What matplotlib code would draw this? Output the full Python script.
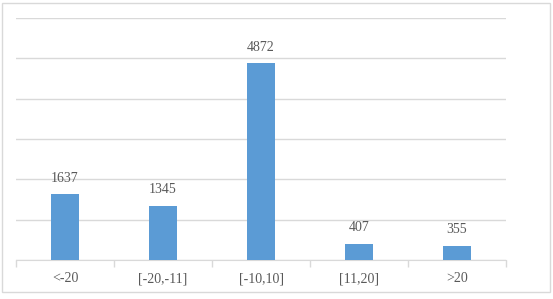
import numpy as np
import matplotlib.pyplot as plt
from matplotlib.patches import Rectangle

categories = ['<-20', '[-20,-11]', '[-10,10]', '[11,20]', '>20']
values = [1637, 1345, 4872, 407, 355]

plt.rcParams['font.family'] = ['Liberation Serif', 'DejaVu Serif']

fig = plt.figure(figsize=(5.53, 2.99), dpi=100)
ax = fig.add_axes([16/553, 1 - 260/299, 490/553, 242/299])

x = np.arange(len(categories))
ax.bar(x, values, width=0.28, color='#5B9BD5', zorder=3)
for xi, v in zip(x, values):
    ax.text(xi, v + 230, str(v), ha='center', va='bottom', fontsize=10, color='#595959')

ax.set_xlim(-0.5, len(categories) - 0.5)
ax.set_ylim(0, 6000)
ax.set_yticks(np.arange(0, 6001, 1000))
ax.yaxis.grid(True, color='#D9D9D9', linewidth=1)
ax.set_axisbelow(True)
ax.tick_params(axis='y', left=False, labelleft=False)

ax.set_xticks(x)
ax.set_xticklabels(categories, fontsize=10, color='#595959')
ax.tick_params(axis='x', length=0, pad=9)
ax.set_xticks(np.arange(-0.5, len(categories), 1), minor=True)
ax.tick_params(axis='x', which='minor', length=5, color='#D9D9D9', width=1)

for s in ['top', 'right', 'left']:
    ax.spines[s].set_visible(False)
ax.spines['bottom'].set_color('#D9D9D9')

fig.patches.append(Rectangle((2/553, 1 - 292/299), 548/553, 289/299, transform=fig.transFigure,
                             fill=False, edgecolor='#D9D9D9', linewidth=1))

fig.savefig('out.png', dpi=100)
